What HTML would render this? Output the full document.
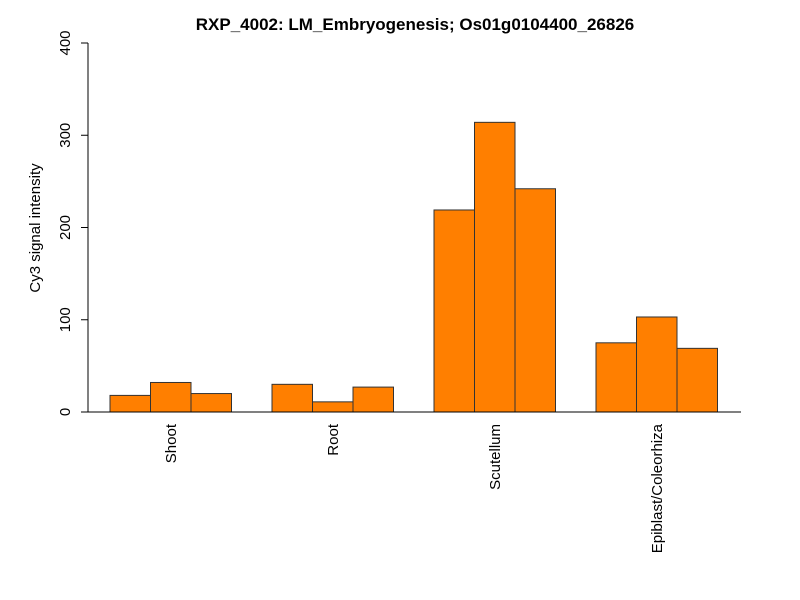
<!DOCTYPE html>
<html><head><meta charset="utf-8"><style>body{margin:0;background:#fff}svg{display:block;font-family:"Liberation Sans",Arial,sans-serif}</style></head>
<body>
<svg id="chart" width="800" height="600">
<text x="415" y="30" text-anchor="middle" font-size="17" font-weight="bold">RXP_4002: LM_Embryogenesis; Os01g0104400_26826</text>
<text transform="translate(40,228) rotate(-90)" text-anchor="middle" font-size="15">Cy3 signal intensity</text>
<g id="bars"></g><g id="axes"></g>
</svg>
<script>
const categories = ["Shoot","Root","Scutellum","Epiblast/Coleorhiza"];
const values = [[18,32,20],[30,11,27],[219,314,242],[75,103,69]];
const yTicks = [0,100,200,300,400];
const NS="http://www.w3.org/2000/svg";
const y0=412, yTop=43, yMax=400;
const y=v=>y0-(v/yMax)*(y0-yTop);
const barW=40.5, left=110;
const x=(g,i)=>left+(g*4+i)*barW;
const bars=document.getElementById('bars'), axes=document.getElementById('axes');
function mk(tag,attrs,parent){const e=document.createElementNS(NS,tag);for(const k in attrs)e.setAttribute(k,attrs[k]);parent.appendChild(e);return e;}
values.forEach((grp,g)=>{grp.forEach((v,i)=>{
 const r=mk('rect',{x:x(g,i),y:y(v),width:barW,height:y0-y(v),fill:'#FF7F00',stroke:'#333','stroke-width':1},bars);
 
 
});
 const cx=x(g,1.5);
 const t=mk('text',{transform:`translate(${cx+5},${y0+12}) rotate(-90)`,'text-anchor':'end','font-size':15},axes);
 t.textContent=categories[g];
 
 
});
const xl=mk('line',{x1:88,x2:741,y1:y0,y2:y0,stroke:'#000'},axes);


const yl=mk('line',{x1:88,x2:88,y1:y(0),y2:y(400),stroke:'#000'},axes);


yTicks.forEach(v=>{
 const tk=mk('line',{x1:81,x2:88,y1:y(v),y2:y(v),stroke:'#000'},axes);
 
 
 const t=mk('text',{transform:`translate(70,${y(v)}) rotate(-90)`,'text-anchor':'middle','font-size':15},axes);
 t.textContent=v;
 
 
});
</script>
</body></html>
